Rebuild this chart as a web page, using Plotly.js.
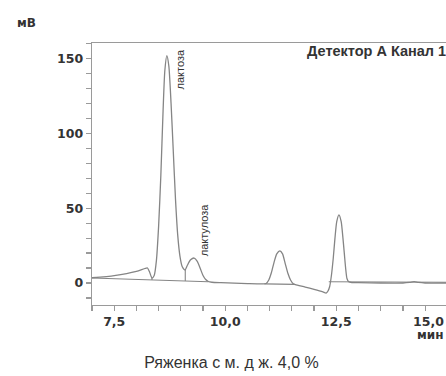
<!DOCTYPE html>
<html><head><meta charset="utf-8">
<script src="https://cdn.plot.ly/plotly-3.0.1.min.js"></script>
<style>html,body{margin:0;padding:0;background:#fff;}#chart{width:446px;height:376px;}</style>
</head><body><div id="chart"></div>
<script>
// Chromatogram signal (time, min / signal, mV)
const timeMin = [7.00,7.50,8.00,8.20,8.25,8.30,8.35,8.40,8.45,8.50,8.55,8.60,8.64,8.685,8.73,8.78,8.83,8.88,8.93,8.98,9.03,9.08,9.10,9.15,9.22,9.30,9.37,9.44,9.50,9.56,9.62,9.70,9.90,10.20,10.50,10.85,10.92,10.98,11.04,11.10,11.16,11.23,11.29,11.35,11.41,11.47,11.53,11.58,11.80,12.00,12.20,12.27,12.31,12.35,12.39,12.43,12.47,12.51,12.56,12.61,12.65,12.68,12.71,12.74,12.78,12.85,13.00,13.50,14.00,14.15,14.25,14.35,14.50,14.97];
const signalMv = [3.5,5.0,7.8,9.8,10.0,7.0,3.3,5,15,38,72,115,142,152,145,120,88,56,32,18,11,8.9,8.8,12,15.5,16.7,14.5,9.5,5,2.3,1.0,0.5,0.2,-0.1,-0.4,-0.6,-0.3,2,7,14,19.5,21.5,19.5,13,6.5,2,-0.5,-1.1,-2.7,-4.3,-6.0,-6.7,-5.5,-2.5,5,16,30,41,45.5,41,30,20,10,3,0.8,0.3,0.3,0,0,0.4,0.9,0.4,0,0];
// Integration baselines and drop lines
const baseX = [7.00,9.62,null,8.35,8.35,null,9.10,9.10,null,10.88,11.56,null,12.33,14.97];
const baseY = [3.3,0.8,null,2.0,3.3,null,1.3,8.8,null,-0.6,-0.9,null,0.8,0.5];
// Peak labels
const peakNames = ["лактоза","лактулоза"];
const peakLabelX = [8.99,9.53];
const peakLabelY = [143,35.5];

const lineCol = '#858585';
const axisCol = '#9a9a9a';
const txtCol = '#333333';
const tickFont = {family:'DejaVu Sans', size:12.5, color:txtCol, weight:'bold'};

const traces = [
  {x: timeMin, y: signalMv, type:'scatter', mode:'lines', line:{color:lineCol, width:1.3, shape:'spline', smoothing:0.6}, hoverinfo:'skip'},
  {x: baseX, y: baseY, type:'scatter', mode:'lines', line:{color:lineCol, width:1.1}, connectgaps:false, hoverinfo:'skip'}
];

const annotations = peakNames.map((n,i)=>({
  x: peakLabelX[i], y: peakLabelY[i], xref:'x', yref:'y', text:n, showarrow:false,
  textangle:-90, font:{family:'Liberation Sans', size:11, color:txtCol}
}));
annotations.push(
  {x:1, y:0.968, xref:'paper', yref:'paper', xanchor:'right', yanchor:'middle', xshift:2, text:'Детектор А Канал 1', showarrow:false, font:{family:'Liberation Sans', size:14.5, color:txtCol, weight:'bold'}},
  {x:-0.186, y:1.075, xref:'paper', yref:'paper', xanchor:'center', yanchor:'middle', text:'мВ', showarrow:false, font:{family:'DejaVu Sans', size:12, color:txtCol, weight:'bold'}},
  {x:1, y:-0.0625, xref:'paper', yref:'paper', xanchor:'right', yanchor:'middle', text:'15,0', showarrow:false, font:tickFont},
  {x:1, y:-0.113, xref:'paper', yref:'paper', xanchor:'right', yanchor:'middle', text:'мин', showarrow:false, font:{family:'DejaVu Sans', size:12, color:txtCol, weight:'bold'}}
);

const layout = {
  width:446, height:376,
  margin:{l:92, r:0, t:43, b:71, pad:0},
  paper_bgcolor:'#fff', plot_bgcolor:'#fff',
  showlegend:false,
  separators:', ',
  title:{text:'Ряженка с м. д ж. 4,0 %', x:0.519, xanchor:'center', y:0.035, yanchor:'middle', yref:'container', font:{family:'Liberation Sans', size:16, color:txtCol}},
  xaxis:{range:[7.0,14.97], tickmode:'linear', tick0:7.5, dtick:2.5, tickformat:'.1f', ticks:'outside', ticklen:5, tickwidth:1.2, tickcolor:axisCol,
    showline:true, linecolor:axisCol, linewidth:1.3, mirror:true, showgrid:false, zeroline:false, tickfont:tickFont,
    minor:{tickmode:'linear', tick0:7.5, dtick:0.5, ticks:'outside', ticklen:5, tickwidth:1.2, tickcolor:axisCol, showgrid:false}},
  yaxis:{range:[-14.7,160.4], tickmode:'linear', tick0:0, dtick:50, ticks:'outside', ticklen:5, tickwidth:1.2, tickcolor:axisCol,
    showline:true, linecolor:axisCol, linewidth:1.3, showgrid:false, zeroline:false, tickfont:tickFont,
    minor:{tickmode:'linear', tick0:0, dtick:10, ticks:'outside', ticklen:5, tickwidth:1.2, tickcolor:axisCol, showgrid:false}},
  annotations: annotations
};
Plotly.newPlot('chart', traces, layout, {staticPlot:true, displayModeBar:false});
</script></body></html>
